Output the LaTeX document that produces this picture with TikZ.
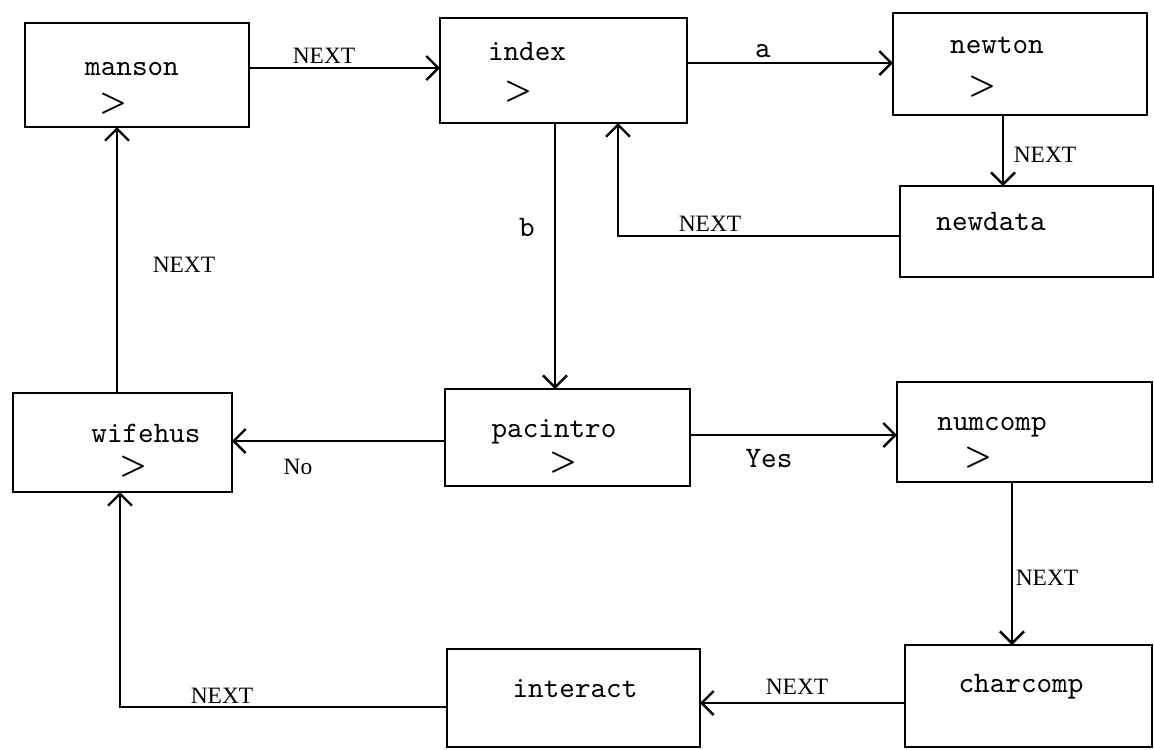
\documentclass[tikz,border=0pt]{standalone}
\usepackage{fontspec}
\newfontfamily\lserif{Liberation Serif}
\usetikzlibrary{arrows.meta}
\newcommand{\bxn}[5]{\node[bx,minimum width={#4*0.35pt},minimum height={#5*0.35pt}] (#1) at (#2,#3) {};}
\begin{document}
\begin{tikzpicture}[x=0.35pt,y=-0.35pt,
  bx/.style={draw, line width=0.75pt, inner sep=0pt, outer sep=0pt},
  nm/.style={anchor=base, inner sep=0pt, font=\fontsize{10.4}{12}\selectfont\ttfamily},
  gt/.style={inner sep=0pt, font=\fontsize{11}{12}\selectfont\boldmath},
  nx/.style={inner sep=0pt, font=\fontsize{8.2}{10}\selectfont\lserif},
  tl/.style={inner sep=0pt, font=\fontsize{10.4}{12}\selectfont\ttfamily},
  arr/.style={line width=0.7pt, -{Straight Barb[length=4.2pt,width=8.4pt,line width=0.85pt]}}]
\useasboundingbox (0,0) rectangle (1154,749);
% boxes
\bxn{manson}{137}{75}{224}{104}
\bxn{index}{563.5}{70.5}{247}{105}
\bxn{newton}{1020}{64}{254}{102}
\bxn{newdata}{1026.5}{231.5}{253}{91}
\bxn{wifehus}{122.5}{442.5}{219}{99}
\bxn{pacintro}{567.5}{437.5}{245}{97}
\bxn{numcomp}{1024.5}{432}{255}{100}
\bxn{charcomp}{1028.5}{696}{247}{102}
\bxn{interact}{573.5}{698}{253}{98}
% box texts
\node[nm] (mansonT) at (132,75) {manson};
\node[gt] (mansonG) at (113,104) {$>$};
\node[nm] (indexT) at (527,60) {index};
\node[gt] (indexG) at (518,92) {$>$};
\node[nm] (newtonT) at (997,53) {newton};
\node[gt] (newtonG) at (982,87) {$>$};
\node[nm] (newdataT) at (991,230) {newdata};
\node[nm] (wifehusT) at (146,442) {wifehus};
\node[gt] (wifehusG) at (133,467) {$>$};
\node[nm] (pacintroT) at (554,437) {pacintro};
\node[gt] (pacintroG) at (563,463) {$>$};
\node[nm] (numcompT) at (992,430) {numcomp};
\node[gt] (numcompG) at (978,458) {$>$};
\node[nm] (charcompT) at (1021,692) {charcomp};
\node[nm] (interactT) at (575,697) {interact};
% connectors
\draw[arr] (manson.east |- 0,68) -- (index.west |- 0,68);
\draw[arr] (index.east |- 0,63) -- (newton.west |- 0,63);
\draw[arr] (newton.south -| 1003,0) -- (newdata.north -| 1003,0);
\draw[arr] (newdata.west |- 0,236) -| (index.south -| 618,0);
\draw[arr] (index.south -| 555,0) -- (pacintro.north -| 555,0);
\draw[arr] (pacintro.west |- 0,441) -- (wifehus.east |- 0,441);
\draw[arr] (pacintro.east |- 0,435) -- (numcomp.west |- 0,435);
\draw[arr] (numcomp.south -| 1012,0) -- (charcomp.north -| 1012,0);
\draw[arr] (charcomp.west |- 0,703) -- (interact.east |- 0,703);
\draw[arr] (interact.west |- 0,707) -| (wifehus.south -| 120,0);
\draw[arr] (wifehus.north -| 117,0) -- (manson.south -| 117,0);
% labels
\node[nx] (l1) at (324,56) {NEXT};
\node[tl] (l2) at (763,51) {a};
\node[nx] (l3) at (1045,155) {NEXT};
\node[nx] (l4) at (710,224) {NEXT};
\node[tl] (l5) at (527,227) {b};
\node[nx] (l6) at (298,467) {No};
\node[tl] (l7) at (769,458) {Yes};
\node[nx] (l8) at (1047,578) {NEXT};
\node[nx] (l9) at (797,687) {NEXT};
\node[nx] (l10) at (222,696) {NEXT};
\node[nx] (l11) at (184,265) {NEXT};
\end{tikzpicture}
\end{document}
